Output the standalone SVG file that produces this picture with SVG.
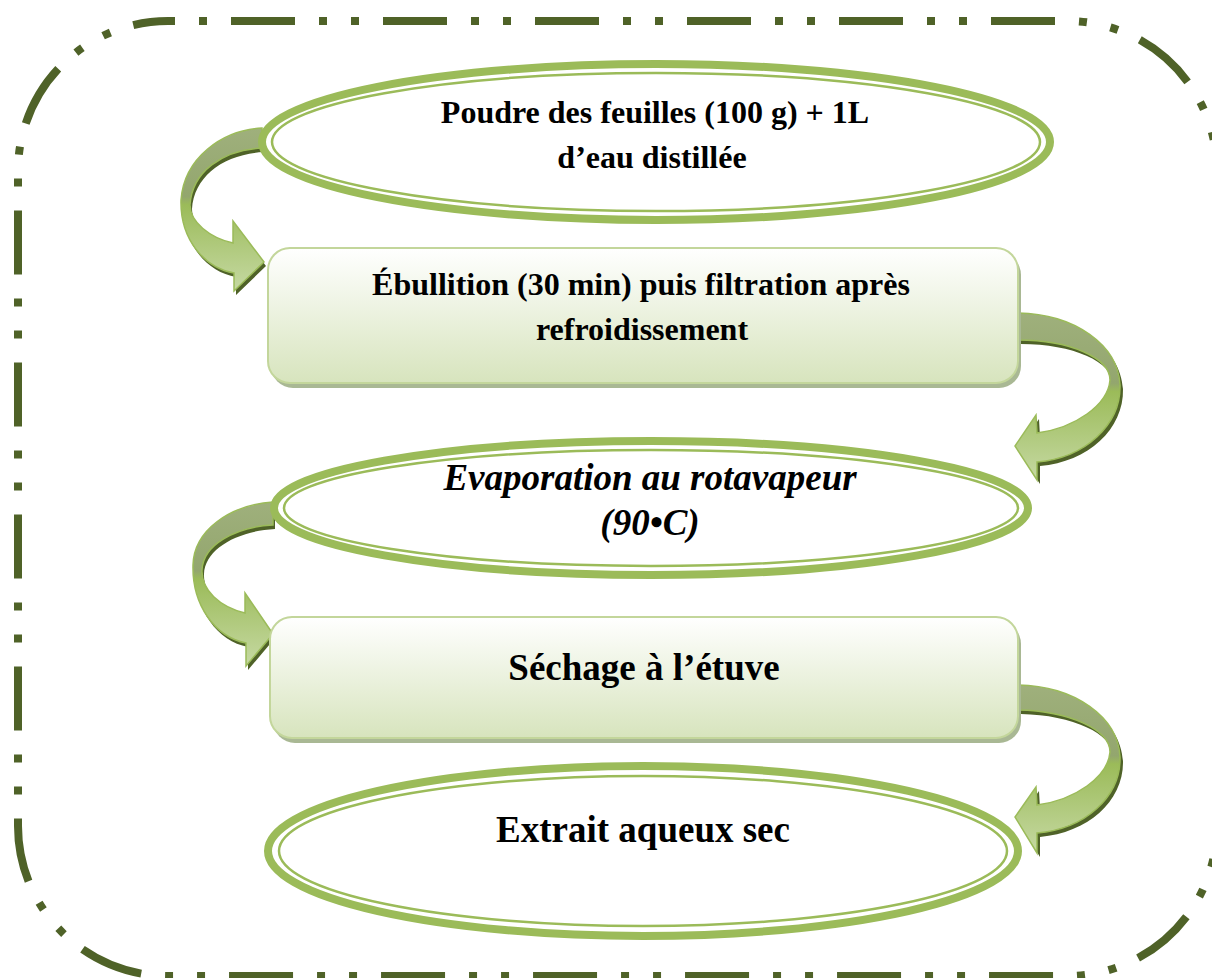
<svg xmlns="http://www.w3.org/2000/svg" width="1212" height="978" viewBox="0 0 1212 978">
<defs>
<style>
.frame{fill:none;stroke:#4f6228;stroke-width:8;stroke-dasharray:64 24 8 24 8 24;stroke-dashoffset:89}
.ell-o{fill:#ffffff;stroke:#9bbb59;stroke-width:8}
.ell-i{fill:none;stroke:#9bbb59;stroke-width:2.5}
.box{fill:url(#boxg);stroke:#c3d69b;stroke-width:2}
.shadow{fill:#a9b894}
.arr{fill:url(#arrg);stroke:#9bbb59;stroke-width:1.5;stroke-linejoin:miter}
.arrs{fill:#4f6228}
.t{font-family:"Liberation Serif","Times New Roman",serif;font-weight:bold;fill:#000;text-anchor:middle}
.s32{font-size:32px}
.s37{font-size:37px}
.it{font-style:italic}
</style>
<linearGradient id="boxg" x1="0" y1="0" x2="0" y2="1">
<stop offset="0" stop-color="#ffffff"/>
<stop offset="1" stop-color="#d7e4bd"/>
</linearGradient>
<linearGradient id="arrg" x1="0" y1="0" x2="0" y2="1">
<stop offset="0" stop-color="#9fb07c"/>
<stop offset="0.42" stop-color="#93a66e"/>
<stop offset="0.47" stop-color="#9bbb59"/>
<stop offset="1" stop-color="#c6d9a3"/>
</linearGradient>
</defs>
<rect x="0" y="0" width="1212" height="978" fill="#ffffff"/>
<rect class="frame" x="18" y="21" width="1199" height="955" rx="150" ry="150"/>

<g id="connectors">
<g id="arrow1">
<path class="arrs" transform="translate(2,4)" d="M262,128 C222,130 184,158 181,200 C180,240 205,268 234,273 L234,291 L264,262 L233,221 L233,243 C210,238 190,222 190,205 C192,172 222,150 262,148 Z"/>
<path class="arr" d="M262,128 C222,130 184,158 181,200 C180,240 205,268 234,273 L234,291 L264,262 L233,221 L233,243 C210,238 190,222 190,205 C192,172 222,150 262,148 Z"/>
</g>
<g id="arrow2">
<path class="arrs" transform="translate(3,4)" d="M1018,313 C1075,314 1118,345 1120,385 C1121,425 1085,458 1037,462 L1037,480 L1015,446 L1036,415 L1037,433 C1075,428 1108,405 1110,380 C1110,358 1070,340 1018,340 Z"/>
<path class="arr" d="M1018,313 C1075,314 1118,345 1120,385 C1121,425 1085,458 1037,462 L1037,480 L1015,446 L1036,415 L1037,433 C1075,428 1108,405 1110,380 C1110,358 1070,340 1018,340 Z"/>
</g>
<g id="arrow3">
<path class="arrs" transform="translate(2,4)" d="M273,502 C230,505 194,530 193,565 C192,605 215,637 246,643 L246,666 L273,634 L245,593 L245,613 C220,607 201,590 202,570 C203,545 235,527 273,525 Z"/>
<path class="arr" d="M273,502 C230,505 194,530 193,565 C192,605 215,637 246,643 L246,666 L273,634 L245,593 L245,613 C220,607 201,590 202,570 C203,545 235,527 273,525 Z"/>
</g>
<g id="arrow4">
<path class="arrs" transform="translate(3,4)" d="M1018,685 C1075,686 1118,717 1120,757 C1121,797 1085,829 1037,833 L1037,853 L1015,817 L1036,787 L1037,805 C1075,800 1108,777 1110,752 C1110,730 1070,711 1018,710 Z"/>
<path class="arr" d="M1018,685 C1075,686 1118,717 1120,757 C1121,797 1085,829 1037,833 L1037,853 L1015,817 L1036,787 L1037,805 C1075,800 1108,777 1110,752 C1110,730 1070,711 1018,710 Z"/>
</g>
</g>

<g id="node1">
<ellipse class="ell-o" cx="656" cy="142" rx="394" ry="78"/>
<ellipse class="ell-i" cx="656" cy="142" rx="384" ry="69"/>
<text class="t s32" x="655" y="123">Poudre des feuilles (100 g) + 1L</text>
<text class="t s32" x="652" y="168">d’eau distillée</text>
</g>

<g id="node2">
<rect class="shadow" x="271" y="253" width="750" height="135" rx="22"/>
<rect class="box" x="268" y="248" width="750" height="135" rx="22"/>
<text class="t s32" x="641" y="295">Ébullition (30 min) puis filtration après</text>
<text class="t s32" x="642" y="340">refroidissement</text>
</g>

<g id="node3">
<ellipse class="ell-o" cx="651" cy="508" rx="377" ry="67"/>
<ellipse class="ell-i" cx="651" cy="508" rx="367" ry="58"/>
<text class="t s37 it" x="650" y="490">Evaporation au rotavapeur</text>
<text class="t s37 it" x="650" y="535">(90•C)</text>
</g>

<g id="node4">
<rect class="shadow" x="273" y="622" width="748" height="121" rx="22"/>
<rect class="box" x="270" y="617" width="748" height="121" rx="22"/>
<text class="t s37" x="644" y="680">Séchage à l’étuve</text>
</g>

<g id="node5">
<ellipse class="ell-o" cx="643" cy="851" rx="375" ry="85"/>
<ellipse class="ell-i" cx="643" cy="851" rx="364" ry="75"/>
<text class="t s37" x="643" y="842">Extrait aqueux sec</text>
</g>
</svg>
